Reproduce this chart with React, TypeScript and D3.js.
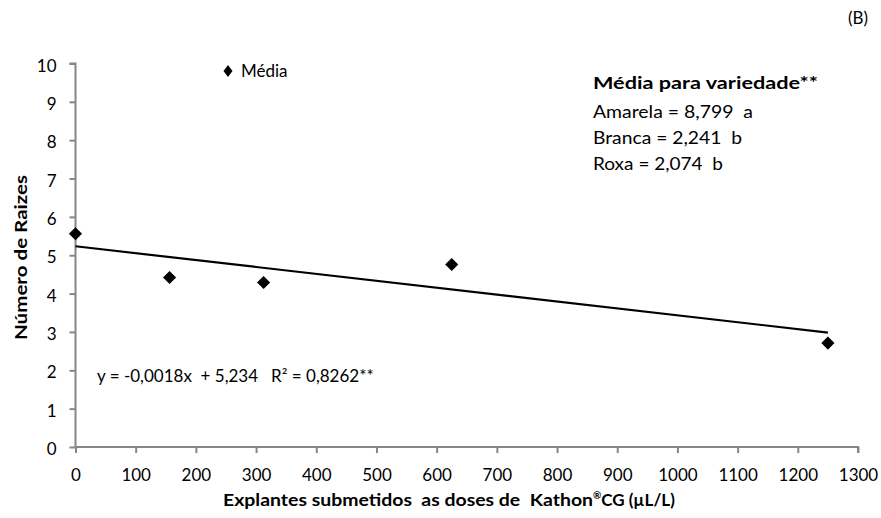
import React, { useEffect, useRef } from 'react'
import * as d3 from 'd3'

const doses = [0, 156.25, 312.5, 625, 1250]
const raizes = [5.56, 4.42, 4.29, 4.76, 2.71]
const xTicks = [0, 100, 200, 300, 400, 500, 600, 700, 800, 900, 1000, 1100, 1200, 1300]
const yTicks = [0, 1, 2, 3, 4, 5, 6, 7, 8, 9, 10]
const trend = { slope: -0.0018, intercept: 5.234 }
const notes = ['Amarela = 8,799  a', 'Branca = 2,241  b', 'Roxa = 2,074  b']

const FONT = 'Lato, sans-serif'
const AXIS_COLOR = '#868686'

export default function App() {
  const svgRef = useRef<SVGSVGElement>(null)

  useEffect(() => {
    if (!svgRef.current) return
    const W = 881
    const H = 518
    const svg = d3.select(svgRef.current)
    svg.selectAll('*').remove()
    svg.attr('width', W).attr('height', H)

    const x = d3.scaleLinear().domain([0, 1300]).range([75.5, 858])
    const y = d3.scaleLinear().domain([0, 10]).range([447, 63.5])

    // axes
    const xAxis = svg.append('g').attr('transform', `translate(0,${y(0)})`)
      .call(d3.axisBottom(x).tickValues(xTicks).tickSize(6).tickPadding(16).tickFormat(d3.format('d')))
    const yAxis = svg.append('g').attr('transform', `translate(${x(0)},0)`)
      .call(d3.axisLeft(y).tickValues(yTicks).tickSize(6).tickPadding(13).tickFormat(d3.format('d')))
    for (const ax of [xAxis, yAxis]) {
      ax.attr('font-size', null).attr('font-family', null)
      ax.select('.domain').attr('stroke', AXIS_COLOR).attr('stroke-width', 2)
      ax.selectAll('.tick line').attr('stroke', AXIS_COLOR).attr('stroke-width', 2)
      ax.selectAll('.tick text').attr('fill', '#000')
        .style('font-size', '17px').style('font-family', FONT)
    }
    yAxis.selectAll('.tick text').attr('dy', '0.45em')
    yAxis.select('.domain').attr('d', `M-6,${y(10)}H0V${y(0)}`)
    xAxis.select('.domain').attr('d', `M${x(0)},0H${x(1300)}V6`)

    // trend line
    const tx = [0, 1250]
    svg.append('line')
      .attr('x1', x(tx[0])).attr('y1', y(trend.intercept + trend.slope * tx[0]))
      .attr('x2', x(tx[1])).attr('y2', y(trend.intercept + trend.slope * tx[1]))
      .attr('stroke', '#000').attr('stroke-width', 2.2)

    // points
    const diamond = d3.symbol().type(d3.symbolDiamond2).size(110)
    svg.selectAll('.pt').data(doses).join('path').attr('class', 'pt')
      .attr('d', diamond)
      .attr('transform', (d, i) => `translate(${x(d)},${y(raizes[i])})`)
      .attr('fill', '#000')

    const txt = (px: number, py: number, s: string, size = 17, bold = false, len?: number) => {
      const t = svg.append('text').attr('x', px).attr('y', py)
        .style('font-size', `${size}px`).style('font-family', FONT)
        .style('font-weight', bold ? 'bold' : 'normal').style('white-space', 'pre')
        .text(s)
      if (len) t.attr('textLength', len).attr('lengthAdjust', 'spacingAndGlyphs')
      return t
    }

    // legend
    svg.append('path').attr('d', 'M0,-6L4.5,0L0,6L-4.5,0Z')
      .attr('transform', 'translate(228,71)').attr('fill', '#000')
    txt(241, 77, 'Média', 17)

    // notes
    txt(593, 89, 'Média para variedade**', 17, true, 225)
    notes.forEach((t, i) => txt(593, 118 + i * 26, t, 17, false, [160, 149, 130][i]))

    txt(97, 382, 'y = -0,0018x  + 5,234   R² = 0,8262**', 17)

    txt(848, 24, '(B)', 17)

    // axis titles
    svg.append('text').attr('transform', `translate(27,${257.5}) rotate(-90)`)
      .attr('text-anchor', 'middle').style('font-size', '17px').style('font-weight', 'bold')
      .style('font-family', FONT).attr('textLength', 165).attr('lengthAdjust', 'spacingAndGlyphs')
      .text('Número de Raizes')
    const xt = svg.append('text').attr('x', 223).attr('y', 506)
      .style('font-size', '17px').style('font-weight', 'bold').style('font-family', FONT)
      .style('white-space', 'pre')
    xt.append('tspan').attr('textLength', 370).attr('lengthAdjust', 'spacingAndGlyphs')
      .text('Explantes submetidos  as doses de  Kathon')
    xt.append('tspan').style('font-size', '10px').attr('dy', -7).text('®')
    xt.append('tspan').attr('dy', 7).text('CG (µL/L)')
  }, [])

  return (
    <div style={{ position: 'absolute', left: 0, top: 0, width: 881, height: 518, overflow: 'hidden' }}>
      <svg ref={svgRef} style={{ display: 'block' }} />
    </div>
  )
}
